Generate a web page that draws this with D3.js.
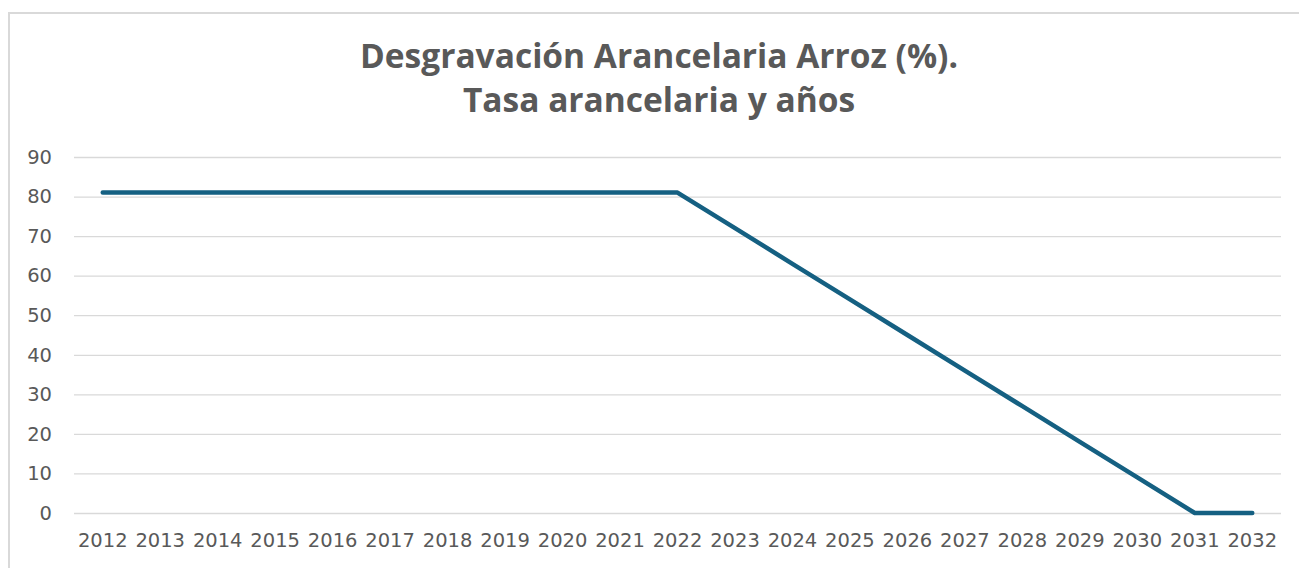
<!DOCTYPE html>
<html>
<head>
<meta charset="utf-8">
<script src="https://cdn.jsdelivr.net/npm/d3@7"></script>
<style>
  html, body { margin: 0; padding: 0; background: #ffffff; }
  svg { display: block; }
</style>
</head>
<body>
<svg id="chart" width="1299" height="568"></svg>
<script>
const categories = ["2012","2013","2014","2015","2016","2017","2018","2019","2020","2021","2022","2023","2024","2025","2026","2027","2028","2029","2030","2031","2032"];
const tasa = [81, 81, 81, 81, 81, 81, 81, 81, 81, 81, 81, 72, 63, 54, 45, 36, 27, 18, 9, 0, 0];
const yTicks = [0, 10, 20, 30, 40, 50, 60, 70, 80, 90];
const titleLines = ["Desgravación Arancelaria Arroz (%).", "Tasa arancelaria y años"];

const svg = d3.select("#chart");

// Outer chart border (extends past the right and bottom edges)
svg.append("rect")
  .attr("x", 9).attr("y", 13)
  .attr("width", 1302).attr("height", 570)
  .attr("fill", "#ffffff")
  .attr("stroke", "#d9d9d9").attr("stroke-width", 2);

const plot = { left: 74, right: 1281, top: 157, bottom: 513 };

const x = d3.scaleBand().domain(categories).range([plot.left, plot.right]).paddingInner(0).paddingOuter(0);
const y = d3.scaleLinear().domain([0, 90]).range([plot.bottom, plot.top]);

// Title
const title = svg.append("text")
  .attr("text-anchor", "middle")
  .attr("fill", "#595959")
  .style("font-family", "'Open Sans', sans-serif")
  .style("font-weight", "700")
  .style("font-size", "33.5px");
title.selectAll("tspan").data(titleLines).join("tspan")
  .attr("x", 659)
  .attr("y", (d, i) => 68 + i * 44)
  .text(d => d);

// Gridlines
const grid = svg.append("g")
  .attr("transform", `translate(${plot.left},0)`)
  .call(d3.axisLeft(y).tickValues(yTicks).tickSize(-(plot.right - plot.left)).tickFormat(""));
grid.select(".domain").remove();
grid.selectAll(".tick line").attr("stroke", "#d9d9d9").attr("stroke-width", 1.3);

// Y axis labels
const yAxis = svg.append("g")
  .attr("transform", `translate(${plot.left - 22},0)`)
  .call(d3.axisLeft(y).tickValues(yTicks).tickSize(0).tickPadding(0).tickFormat(d3.format("d")));
yAxis.select(".domain").remove();
yAxis.selectAll("text")
  .attr("fill", "#595959")
  .style("font-family", "'DejaVu Sans', sans-serif")
  .style("font-size", "19.5px");

// X axis labels
const xAxis = svg.append("g")
  .attr("transform", `translate(0,${plot.bottom})`)
  .call(d3.axisBottom(x).tickSize(0).tickPadding(20));
xAxis.select(".domain").remove();
xAxis.selectAll("text")
  .attr("fill", "#595959")
  .style("font-family", "'DejaVu Sans', sans-serif")
  .style("font-size", "19.5px");

// Line
const line = d3.line()
  .x((d, i) => x(categories[i]) + x.bandwidth() / 2)
  .y(d => y(d));

svg.append("path")
  .datum(tasa)
  .attr("d", line)
  .attr("fill", "none")
  .attr("stroke", "#156082")
  .attr("stroke-width", 4.5)
  .attr("stroke-linecap", "round")
  .attr("stroke-linejoin", "round");
</script>
</body>
</html>
